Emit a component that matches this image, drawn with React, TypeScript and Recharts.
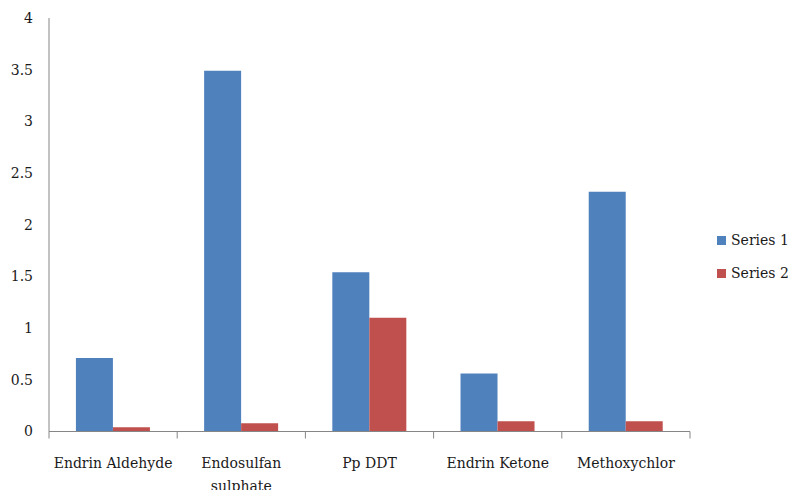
import React from "react";
import { BarChart, Bar, XAxis, YAxis, Legend } from "recharts";

const categories = ["Endrin Aldehyde", "Endosulfan sulphate", "Pp DDT", "Endrin Ketone", "Methoxychlor"];
const series1 = [0.71, 3.49, 1.54, 0.56, 2.32];
const series2 = [0.04, 0.08, 1.1, 0.1, 0.1];
const yTicks = [0, 0.5, 1, 1.5, 2, 2.5, 3, 3.5, 4];
const seriesNames = ["Series 1", "Series 2"];
const colors = ["#4F81BD", "#C0504D"];

const data = categories.map((c, i) => ({ name: c, s1: series1[i], s2: series2[i] }));

const FONT = "'DejaVu Serif', serif";
const TEXT = "#1a1a1a";
const AXIS = "#868686";

const XTick = (props: any) => {
  const { x, y, payload, index, visibleTicksCount } = props;
  const off = payload && payload.offset ? payload.offset : 64.1;
  const words = String(payload.value).split(" ");
  const lines = payload.value === "Endosulfan sulphate" ? words : [payload.value];
  const last = index === (visibleTicksCount ?? categories.length) - 1;
  return (
    <g>
      <line x1={x - off} x2={x - off} y1={y} y2={y + 7} stroke={AXIS} strokeWidth={1} />
      {last && <line x1={x + off} x2={x + off} y1={y} y2={y + 7} stroke={AXIS} strokeWidth={1} />}
      <text x={x} y={y + 36} textAnchor="middle" fontFamily={FONT} fontSize={14} fill={TEXT}>
        {lines.map((l: string, i: number) => (
          <tspan key={i} x={x} dy={i === 0 ? 0 : 23}>
            {l}
          </tspan>
        ))}
      </text>
    </g>
  );
};

const LegendContent = () => (
  <div style={{ fontFamily: FONT, fontSize: 14, color: TEXT, whiteSpace: "nowrap" }}>
    {seriesNames.map((n, i) => (
      <div key={n} style={{ display: "flex", alignItems: "center", height: 33 }}>
        <span style={{ display: "inline-block", width: 9, height: 9, background: colors[i], marginRight: 5, flexShrink: 0 }} />
        <span>{n}</span>
      </div>
    ))}
  </div>
);

export default function App() {
  return (
    <div style={{ position: "absolute", left: 0, top: 0, width: 788, height: 490, background: "#fff", overflow: "hidden" }}>
      <BarChart
        width={788}
        height={490}
        data={data}
        margin={{ top: 18, right: 27, bottom: 18.5, left: 0 }}
        barCategoryGap="21%"
        barGap={0}
      >
        <XAxis
          dataKey="name"
          height={40}
          tickSize={0}
          tickMargin={0}
          tickLine={false}
          axisLine={{ stroke: AXIS }}
          interval={0}
          tick={<XTick />}
        />
        <YAxis
          width={49}
          domain={[0, 4]}
          ticks={yTicks}
          tickLine={false}
          axisLine={{ stroke: AXIS }}
          tickMargin={10}
          tick={{ fontFamily: FONT, fontSize: 14, fill: TEXT }}
        />
        <Legend
          layout="vertical"
          align="right"
          verticalAlign="top"
          content={<LegendContent />}
          wrapperStyle={{ left: 717, top: 240 - 16.5, width: 71 }}
        />
        <Bar dataKey="s1" name={seriesNames[0]} fill={colors[0]} isAnimationActive={false} />
        <Bar dataKey="s2" name={seriesNames[1]} fill={colors[1]} isAnimationActive={false} />
      </BarChart>
    </div>
  );
}
